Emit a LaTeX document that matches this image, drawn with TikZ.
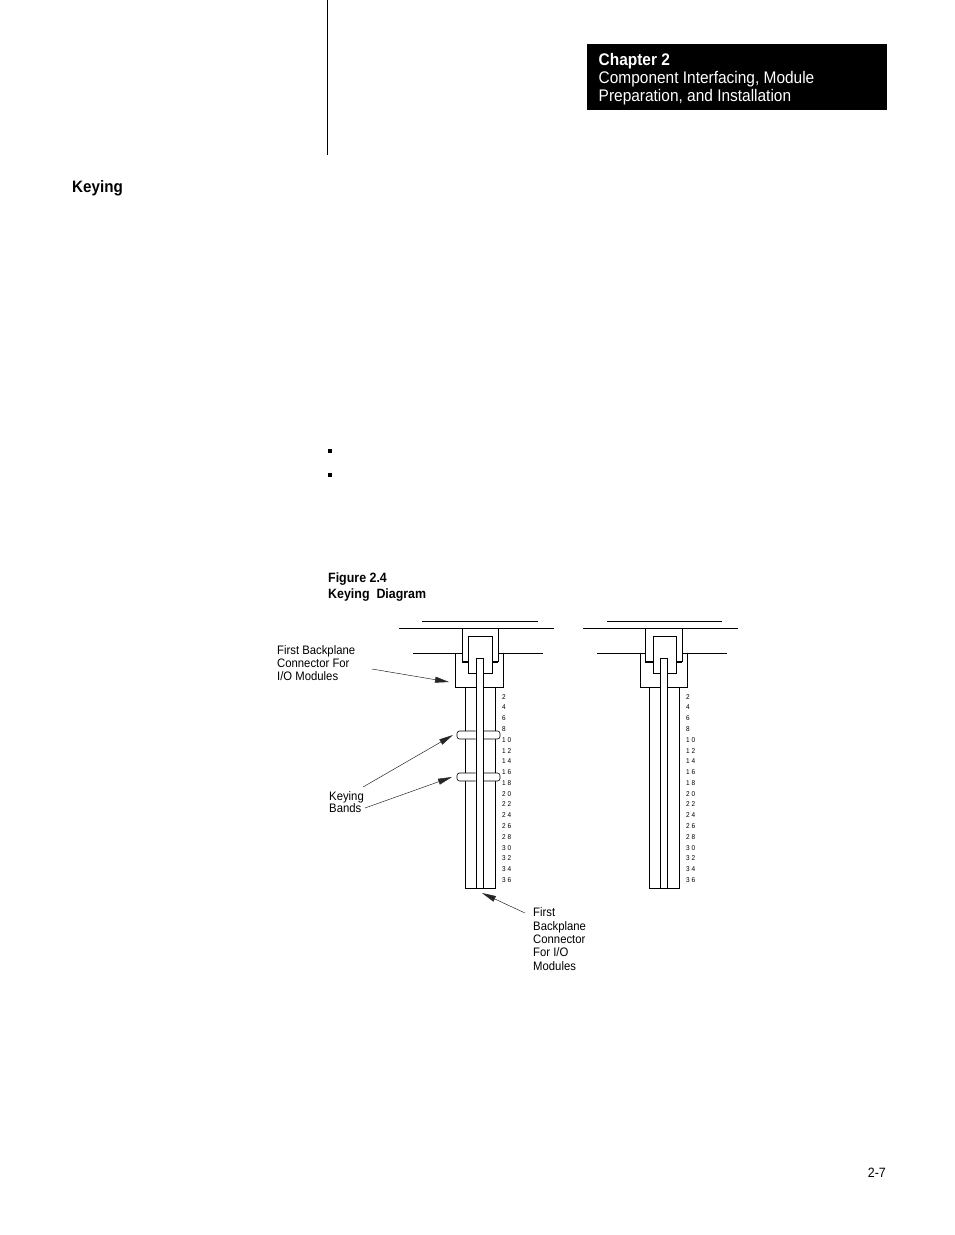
\documentclass[tikz,border=0pt]{standalone}
\usepackage{fontspec}
\setmainfont{Liberation Sans}[FakeStretch=0.92]
\usetikzlibrary{arrows.meta}
\tikzset{
  part/.style={line width=1pt},
  tick/.style={line width=2pt},
  pin/.style={line width=0.5pt, black!85, -{Triangle[length=14pt,width=6pt]}},
  lbl/.style={font=\fontsize{12.3}{13.3}\selectfont, align=left, anchor=north west, inner sep=0pt},
  num/.style={font=\fontsize{7}{7}\selectfont, anchor=west, inner sep=0pt},
  band/.style={line width=0.6pt, fill=white, rounded corners=2.5pt}
}

\begin{document}
\begin{tikzpicture}[x=1pt, y=-1pt]
        \useasboundingbox (0,0) rectangle (954,1235);
        % page header
        \draw[line width=1pt] (327,0) -- (327,155);
        \node (chapbox) [fill=black, anchor=north west, inner sep=0pt, minimum width=300pt, minimum height=66pt] at (587,44) {};
        \node (chaptext) [anchor=north west, inner sep=0pt, text=white, align=left, font=\fontsize{16.8}{18}\selectfont] at (598.5,53.2) {\textbf{Chapter 2}\\Component Interfacing, Module\\Preparation, and Installation};
        \node (heading) [anchor=base west, inner sep=0pt, font=\fontsize{16.5}{18}\selectfont\bfseries] at (72,192) {Keying};
        \node (bulA) [fill=black, inner sep=0pt, minimum size=4pt] at (330,451) {};
        \node (bulB) [fill=black, inner sep=0pt, minimum size=4pt] at (330,475) {};
        \node (figcap) [anchor=north west, inner sep=0pt, align=left, font=\fontsize{13.5}{16}\selectfont\bfseries] at (328,573) {Figure 2.4\\Keying~~Diagram};
        \node (pageno) [anchor=base east, inner sep=0pt, font=\fontsize{13.5}{15}\selectfont] at (886,1177) {2-7};

        % left connector
        \draw[part] (422,621) -- (538,621);
        \draw[part] (399,628) -- (554,628);
        \draw[part] (413,653) -- (462,653);
        \draw[part] (498,653) -- (543,653);
        \draw[part] (462,628) -- (462,662);
        \draw[part] (498,628) -- (498,662);
        \draw[part] (468,636) rectangle (492,673);
        \draw[tick] (462,662) -- (468,662);
        \draw[tick] (492,662) -- (498,662);
        \draw[part] (455,653) -- (455,687) -- (503,687) -- (503,653);
        \draw[part] (465,687) -- (465,888) -- (495,888) -- (495,687);
        \draw[band] (475.5,731) -- (457,731) -- (457,739) -- (475.5,739);
        \draw[band] (483.5,731) -- (500,731) -- (500,739) -- (483.5,739);
        \draw[band] (475.5,773) -- (457,773) -- (457,781) -- (475.5,781);
        \draw[band] (483.5,773) -- (500,773) -- (500,781) -- (483.5,781);
        \draw[part, fill=white] (476,888) -- (476,658) -- (483,658) -- (483,888);

        % right connector
        \draw[part] (607,621) -- (722,621);
        \draw[part] (583,628) -- (738,628);
        \draw[part] (597,653) -- (645,653);
        \draw[part] (682,653) -- (727,653);
        \draw[part] (645,628) -- (645,662);
        \draw[part] (682,628) -- (682,662);
        \draw[part] (653,636) rectangle (676,673);
        \draw[tick] (645,662) -- (653,662);
        \draw[tick] (676,662) -- (682,662);
        \draw[part] (640,653) -- (640,687) -- (687,687) -- (687,653);
        \draw[part] (649,687) -- (649,888) -- (679,888) -- (679,687);
        \draw[part, fill=white] (660,888) -- (660,658) -- (667,658) -- (667,888);

        % pin numbers
        \foreach \n [count=\i from 0] in {2,4,6,8,1 0,1 2,1 4,1 6,1 8,2 0,2 2,2 4,2 6,2 8,3 0,3 2,3 4,3 6} {
          \node (numL\i) [num] at (502,696.6+10.79*\i) {\n};
          \node (numR\i) [num] at (686,696.6+10.79*\i) {\n};
        }

        % callouts
        \node (conlbl) [lbl] at (277,645) {First Backplane\\Connector For\\I/O Modules};
        \node (bandlbl) [lbl, font=\fontsize{12.3}{11.3}\selectfont] at (329,791) {Keying\\Bands};
        \node (botlbl) [lbl] at (533,907.7) {First\\Backplane\\Connector\\For I/O\\Modules};
        \coordinate (conTail) at (372,669);
        \coordinate (conTip) at (449,682);
        \coordinate (bandTailA) at (363,787);
        \coordinate (bandTipA) at (453,735);
        \coordinate (bandTailB) at (365,808);
        \coordinate (bandTipB) at (452,777);
        \coordinate (botTail) at (525,913);
        \coordinate (botTip) at (482,893);
        \draw[pin] (conTail) -- (conTip);
        \draw[pin] (bandTailA) -- (bandTipA);
        \draw[pin] (bandTailB) -- (bandTipB);
        \draw[pin] (botTail) -- (botTip);
\end{tikzpicture}
\end{document}
